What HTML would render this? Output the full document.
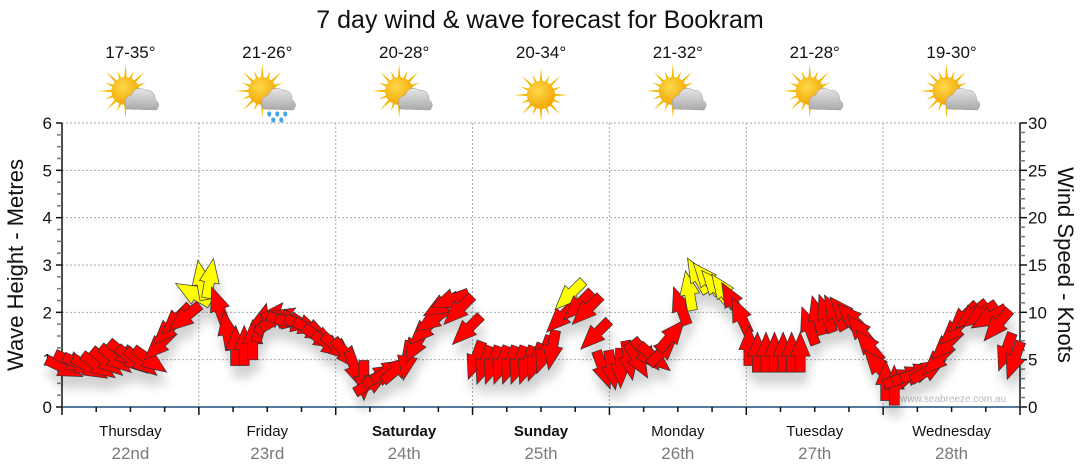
<!DOCTYPE html>
<html><head><meta charset="utf-8"><style>
html,body{margin:0;padding:0;background:#fff;}
svg{display:block;font-family:"Liberation Sans","DejaVu Sans",sans-serif;}
</style></head><body>
<svg id="chart" width="1080" height="475" viewBox="0 0 1080 475">
<defs>
<filter id="sh" x="-50%" y="-50%" width="200%" height="250%">
<feGaussianBlur in="SourceAlpha" stdDeviation="5"/>
<feOffset dx="2" dy="12" result="b"/>
<feComponentTransfer><feFuncA type="linear" slope="0.18"/></feComponentTransfer>
<feMerge><feMergeNode/><feMergeNode in="SourceGraphic"/></feMerge>
</filter>
<radialGradient id="sunG" cx="0.4" cy="0.35" r="0.7"><stop offset="0" stop-color="#ffd84a"/><stop offset="1" stop-color="#f2a400"/></radialGradient>
<linearGradient id="cloudG" x1="0" y1="0" x2="0" y2="1"><stop offset="0" stop-color="#e6e6e6"/><stop offset="1" stop-color="#a9a9a9"/></linearGradient>
</defs>
<text x="540" y="28" text-anchor="middle" font-size="25" fill="#111">7 day wind &amp; wave forecast for Bookram</text>
<g id="grid"></g>
<g id="axes"></g>
<g id="topg"></g>
<text x="900" y="402" font-size="10" fill="#bbb">www.seabreeze.com.au</text>
<g id="arrows" filter="url(#sh)"></g>
<text transform="translate(23,265) rotate(-90)" text-anchor="middle" font-size="22" fill="#111">Wave Height - Metres</text>
<text transform="translate(1058,265) rotate(90)" text-anchor="middle" font-size="22" fill="#111">Wind Speed - Knots</text>
</svg>
<script>
const days = ["Thursday","Friday","Saturday","Sunday","Monday","Tuesday","Wednesday"];
const dates = ["22nd","23rd","24th","25th","26th","27th","28th"];
const temps = ["17-35°","21-26°","20-28°","20-34°","21-32°","21-28°","19-30°"];
const icons = ["partly","rain","partly","sun","partly","partly","partly"];
const waveTicks = [0,1,2,3,4,5,6];
const windTicks = [0,5,10,15,20,25,30];
const windSpeed = [
4.1,4.7,4.4,4.1,4.3,4.7,5.0,5.5,4.9,4.7,4.9,6.5,8.1,9.2,9.4,12.0,
13.4,13.6,10.7,8.1,6.5,6.5,7.1,8.9,9.4,9.4,9.2,8.9,8.6,8.1,7.3,6.5,
6.2,5.5,3.9,2.8,2.6,3.4,3.9,4.1,4.9,6.5,8.1,9.2,10.7,11.3,10.2,8.1,
4.9,4.4,4.4,4.4,4.4,4.4,4.4,4.7,5.5,6.0,9.4,11.8,10.7,10.2,7.6,3.9,
3.9,4.1,4.9,4.9,5.5,5.2,6.0,7.6,10.7,12.3,13.9,13.6,12.8,12.3,11.3,9.7,
6.5,5.8,5.8,5.8,5.8,5.8,5.8,8.6,9.7,9.9,10.0,10.0,9.4,8.1,6.5,4.4,
2.8,2.3,3.1,3.4,3.7,3.9,4.9,6.5,8.1,9.4,9.7,9.7,9.4,8.6,5.8,4.9];
const windDir = [
115,115,115,120,125,130,130,130,130,130,125,225,225,225,230,300,
350,10,340,350,0,0,0,15,40,60,100,100,110,115,120,125,
130,140,160,180,60,60,60,50,190,210,225,235,240,250,225,225,
200,200,200,200,200,200,200,200,200,190,225,225,225,225,225,160,
170,180,170,150,140,130,45,40,340,350,330,320,320,325,330,335,
0,0,0,0,0,0,0,340,345,340,330,320,315,320,320,320,
0,0,70,70,70,60,225,225,225,225,230,235,240,220,200,200];
const NS="http://www.w3.org/2000/svg";
const X0=62,X1=1020,Y0=407,Y1=123;
const yW = v => Y0-(v/6)*(Y0-Y1);
const yK = v => Y0-(v/30)*(Y0-Y1);
const dayW=(X1-X0)/7;
function mk(tag,attrs,parent){const e=document.createElementNS(NS,tag);for(const k in attrs)e.setAttribute(k,attrs[k]);parent.appendChild(e);return e;}
const grid=document.getElementById('grid'),axes=document.getElementById('axes'),topG=document.getElementById('topg'),arrows=document.getElementById('arrows');
waveTicks.forEach(v=>{ if(v>0){const l=mk('line',{x1:X0,x2:X1,y1:yW(v),y2:yW(v),stroke:'#aaa','stroke-dasharray':'2,2'},grid);

}
 const t=mk('text',{x:52,y:yW(v)+6,'text-anchor':'end','font-size':17,fill:'#111'},axes);t.textContent=v;
 
 });
windTicks.forEach(v=>{const t=mk('text',{x:1028,y:yK(v)+6,'font-size':17,fill:'#111'},axes);t.textContent=v;
 
 });
for(let d=1;d<7;d++){const x=X0+d*dayW;const l=mk('line',{x1:x,x2:x,y1:Y1,y2:Y0,stroke:'#aaa','stroke-dasharray':'2,2'},grid);
 
 }
mk('line',{x1:X0,x2:X0,y1:Y1,y2:Y0,stroke:'#111','stroke-width':1.5},axes);
for(let i=0;i<=24;i++){const y=yW(i/4);mk('line',{x1:i%4==0?56:57,x2:X0,y1:y,y2:y,stroke:i%4==0?'#111':'#777','stroke-width':1.5},axes);}
mk('line',{x1:X1,x2:X1,y1:Y1,y2:Y0,stroke:'#111','stroke-width':1.5},axes);
for(let i=0;i<=30;i++){const y=yK(i);mk('line',{x1:X1,x2:i%5==0?1027:1025,y1:y,y2:y,stroke:i%5==0?'#111':'#777','stroke-width':1.5},axes);}
const ax=mk('line',{x1:X0,x2:X1+2,y1:Y0,y2:Y0,stroke:'#1a4f7a','stroke-width':1.5},axes);


for(let i=0;i<=28;i++){const x=X0+i*dayW/4;mk('line',{x1:x,x2:x,y1:Y0,y2:i%4==0?415:412,stroke:'#111','stroke-width':1.5},axes);}
days.forEach((d,i)=>{const cx=X0+(i+0.5)*dayW;
 const t=mk('text',{x:cx,y:436,'text-anchor':'middle','font-size':15,fill:'#111','font-weight':(d=='Saturday'||d=='Sunday')?'bold':'normal'},axes);t.textContent=d;
 
 
 const s=mk('text',{x:cx,y:459,'text-anchor':'middle','font-size':17,fill:'#7a7a7a'},axes);s.textContent=dates[i];
 
 
 const tt=mk('text',{x:cx,y:58,'text-anchor':'middle','font-size':17,fill:'#111'},topG);tt.textContent=temps[i];
 
 
 const g=mk('g',{transform:'translate('+cx+',95)'},topG);
 
 
 const sx=icons[i]=='sun'?0:-5, sy=icons[i]=='sun'?0:-4;
 for(let k=0;k<16;k++){const a=k*Math.PI/8,r=k%2?22:27;
   mk('polygon',{points:[sx+Math.cos(a-0.12)*12,sy+Math.sin(a-0.12)*12,sx+Math.cos(a)*r,sy+Math.sin(a)*r,sx+Math.cos(a+0.12)*12,sy+Math.sin(a+0.12)*12].join(','),fill:'#f5b800'},g);}
 mk('circle',{cx:sx,cy:sy,r:14,fill:'url(#sunG)'},g);
 if(icons[i]!='sun'){
  mk('path',{d:'M-4,14 Q-9,3 1,0 Q5,-10 15,-5 Q25,-5 25,5 Q31,9 26,15 Z',fill:'url(#cloudG)',stroke:'#999','stroke-width':0.5},g);
  if(icons[i]=='rain'){[[2,19],[10,19],[18,19],[6,25],[14,25]].forEach(p=>mk('ellipse',{cx:p[0],cy:p[1],rx:2,ry:2.6,fill:'#4aa3e0'},g));}
 }
});
const N=windSpeed.length;
for(let i=0;i<N;i++){
 const x=X0+(i+0.3)*dayW/16, y=yK(windSpeed[i]);
 const col=windSpeed[i]>=11.6?'#ffff00':'#ff0000';
 const p=mk('polygon',{points:'-5,20 -5,4 -10,4 0,-20 10,4 5,4 5,20',fill:col,stroke:'#333','stroke-width':0.7,'stroke-linejoin':'miter',transform:'translate('+x.toFixed(1)+','+y.toFixed(1)+') rotate('+windDir[i]+')'},arrows);
 
 
}
</script>
</body></html>
